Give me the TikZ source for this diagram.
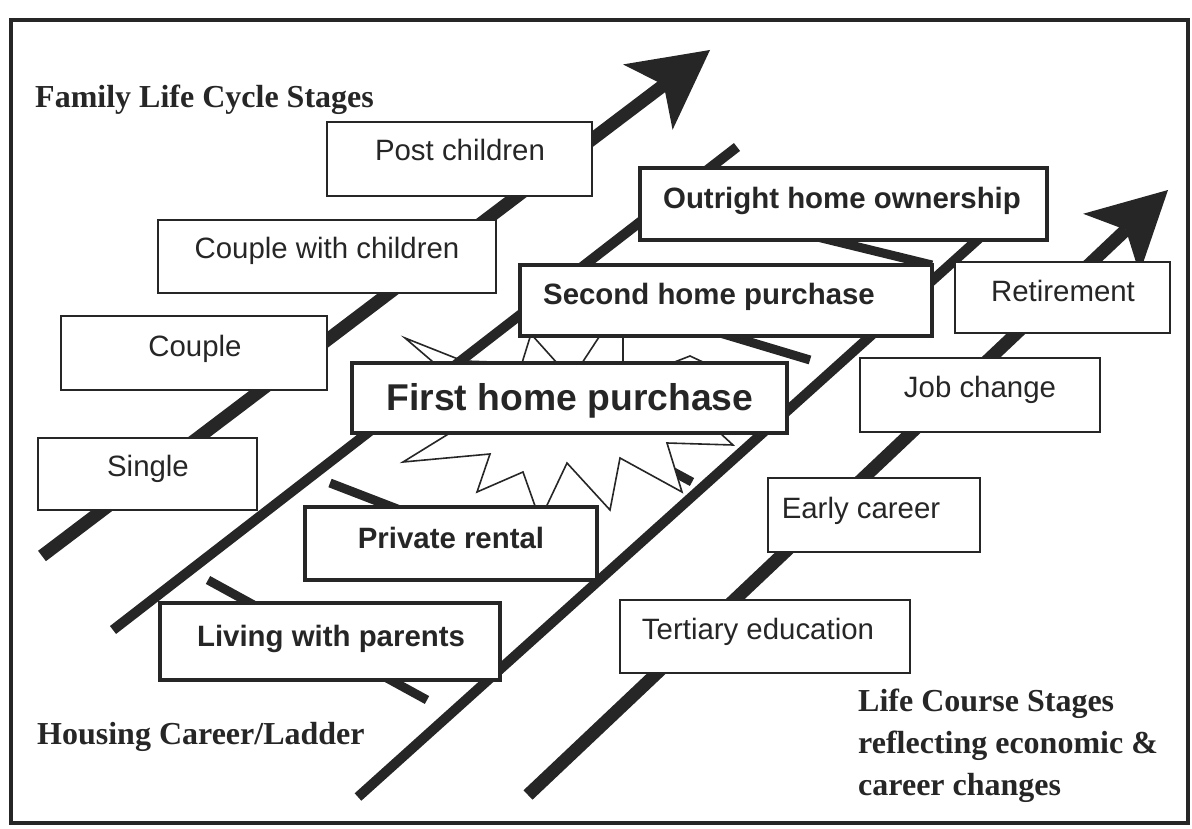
\documentclass[tikz,border=0pt]{standalone}
\usepackage{fontspec}
\setmainfont{Liberation Serif}
\setsansfont{Liberation Sans}
\usetikzlibrary{calc}
\definecolor{ink}{RGB}{38,38,38}

% thick arrow with a notched head: #1 name, #2 tail, #3 tip
\newcommand\fatarrow[3]{%
  \coordinate (#1-tail) at #2;
  \coordinate (#1-tip) at #3;
  \coordinate (#1-notch) at ($(#1-tip)!58pt!(#1-tail)$);
  \coordinate (#1-back) at ($(#1-tip)!78pt!(#1-tail)$);
  \coordinate (#1-barbl) at ($(#1-back)!41pt!90:(#1-tip)$);
  \coordinate (#1-barbr) at ($(#1-back)!41pt!-90:(#1-tip)$);
  \draw[shaft] (#1-tail) -- (#1-notch);
  \fill[ink] (#1-tip) -- (#1-barbl) -- (#1-notch) -- (#1-barbr) -- cycle;
}

\begin{document}
\begin{tikzpicture}[x=1pt,y=-1pt,
  thinbox/.style={draw=ink, fill=white, line width=2pt, inner sep=0pt},
  thickbox/.style={draw=ink, fill=white, line width=4pt, inner sep=0pt},
  boxtext/.style={anchor=base, inner sep=0pt, text=ink,
    font=\sffamily\fontsize{29.4}{34}\selectfont},
  boldtext/.style={boxtext, font=\sffamily\bfseries\fontsize{29.4}{34}\selectfont},
  bigtext/.style={boxtext, font=\sffamily\bfseries\fontsize{37.3}{42}\selectfont},
  caption/.style={anchor=base west, inner sep=0pt, text=ink,
    font=\rmfamily\bfseries\fontsize{32}{42}\selectfont},
  rail/.style={draw=ink, line width=10pt},
  rung/.style={draw=ink, line width=9pt},
  shaft/.style={draw=ink, line width=13pt},
  burst/.style={draw=ink, fill=white, line width=1.6pt, line join=miter},
]
\useasboundingbox (0,0) rectangle (1192,829);

% outer frame
\draw[ink, line width=4pt] (11,20) rectangle (1188,823);

% family life cycle arrow and life course arrow
\fatarrow{fam}{(42,556)}{(710,50)}
\fatarrow{life}{(528,795)}{(1168,190)}

% rungs of the housing ladder
\coordinate (r1a) at (208,580);  \coordinate (r1b) at (427,700);
\coordinate (r2a) at (330,483);  \coordinate (r2b) at (540,564);
\coordinate (r3a) at (500,378);  \coordinate (r3b) at (692,482);
\coordinate (r4a) at (620,303);  \coordinate (r4b) at (810,360);
\coordinate (r5a) at (760,223);  \coordinate (r5b) at (932,265);
\draw[rung] (r1a) -- (r1b);
\draw[rung] (r2a) -- (r2b);
\draw[rung] (r3a) -- (r3b);
\draw[rung] (r4a) -- (r4b);
\draw[rung] (r5a) -- (r5b);

% starburst behind the first purchase
\draw[burst] (440,390) -- (433,362) -- (405,338) -- (463,361) -- (522,363)
  -- (531,334) -- (557,363) -- (582,363) -- (601,334) -- (623,334)
  -- (623,363) -- (672,363) -- (690,356) -- (705,363) -- (760,400)
  -- (720,433) -- (733,445) -- (667,443) -- (682,492) -- (620,458)
  -- (610,510) -- (567,463) -- (540,520) -- (523,472) -- (477,492)
  -- (490,454) -- (403,462) -- (450,433) -- cycle;

% rails of the housing ladder
\coordinate (lrail-a) at (113,630); \coordinate (lrail-b) at (737,147);
\coordinate (rrail-a) at (358,797); \coordinate (rrail-b) at (985,233);
\draw[rail] (lrail-a) -- (lrail-b);
\draw[rail] (rrail-a) -- (rrail-b);

% family life cycle stages
\node[thinbox, minimum width=265, minimum height=74] (post) at (459.5,159) {};
\node[boxtext] (post-t) at (460,161) {Post children};
\node[thinbox, minimum width=338, minimum height=73] (cwc) at (327,256.5) {};
\node[boxtext] (cwc-t) at (327,258.5) {Couple with children};
\node[thinbox, minimum width=266, minimum height=74] (couple) at (194,353) {};
\node[boxtext] (couple-t) at (195,356.5) {Couple};
\node[thinbox, minimum width=219, minimum height=72] (single) at (147.5,474) {};
\node[boxtext] (single-t) at (148,476.5) {Single};

% life course stages
\node[thinbox, minimum width=215, minimum height=71] (retire) at (1062.5,297.5) {};
\node[boxtext] (retire-t) at (1063,301.5) {Retirement};
\node[thinbox, minimum width=240, minimum height=74] (job) at (980,395) {};
\node[boxtext] (job-t) at (980,397.5) {Job change};
\node[thinbox, minimum width=212, minimum height=74] (early) at (874,515) {};
\node[boxtext] (early-t) at (861,518.5) {Early career};
\node[thinbox, minimum width=290, minimum height=73] (tertiary) at (765,636.5) {};
\node[boxtext] (tertiary-t) at (758,639.5) {Tertiary education};

% housing career steps
\node[thickbox, minimum width=340, minimum height=77] (parents) at (330,641.5) {};
\node[boldtext] (parents-t) at (331,646) {Living with parents};
\node[thickbox, minimum width=292, minimum height=73] (rental) at (451,543.5) {};
\node[boldtext] (rental-t) at (451,548) {Private rental};
\node[thickbox, minimum width=435, minimum height=70] (first) at (569.5,398) {};
\node[bigtext] (first-t) at (570,410) {First home purchase};
\node[thickbox, minimum width=412, minimum height=71] (second) at (726,300.5) {};
\node[boldtext] (second-t) at (709,305) {Second home purchase};
\node[thickbox, minimum width=407, minimum height=72] (outright) at (843.5,204) {};
\node[boldtext] (outright-t) at (842,209) {Outright home ownership};

% captions
\node[caption] (cap-family) at (35,108) {Family Life Cycle Stages};
\node[caption] (cap-housing) at (37,744) {Housing Career/Ladder};
\node[caption] (cap-life1) at (858,711) {Life Course Stages};
\node[caption] (cap-life2) at (858,753) {reflecting economic \&};
\node[caption] (cap-life3) at (858,795) {career changes};
\end{tikzpicture}
\end{document}
